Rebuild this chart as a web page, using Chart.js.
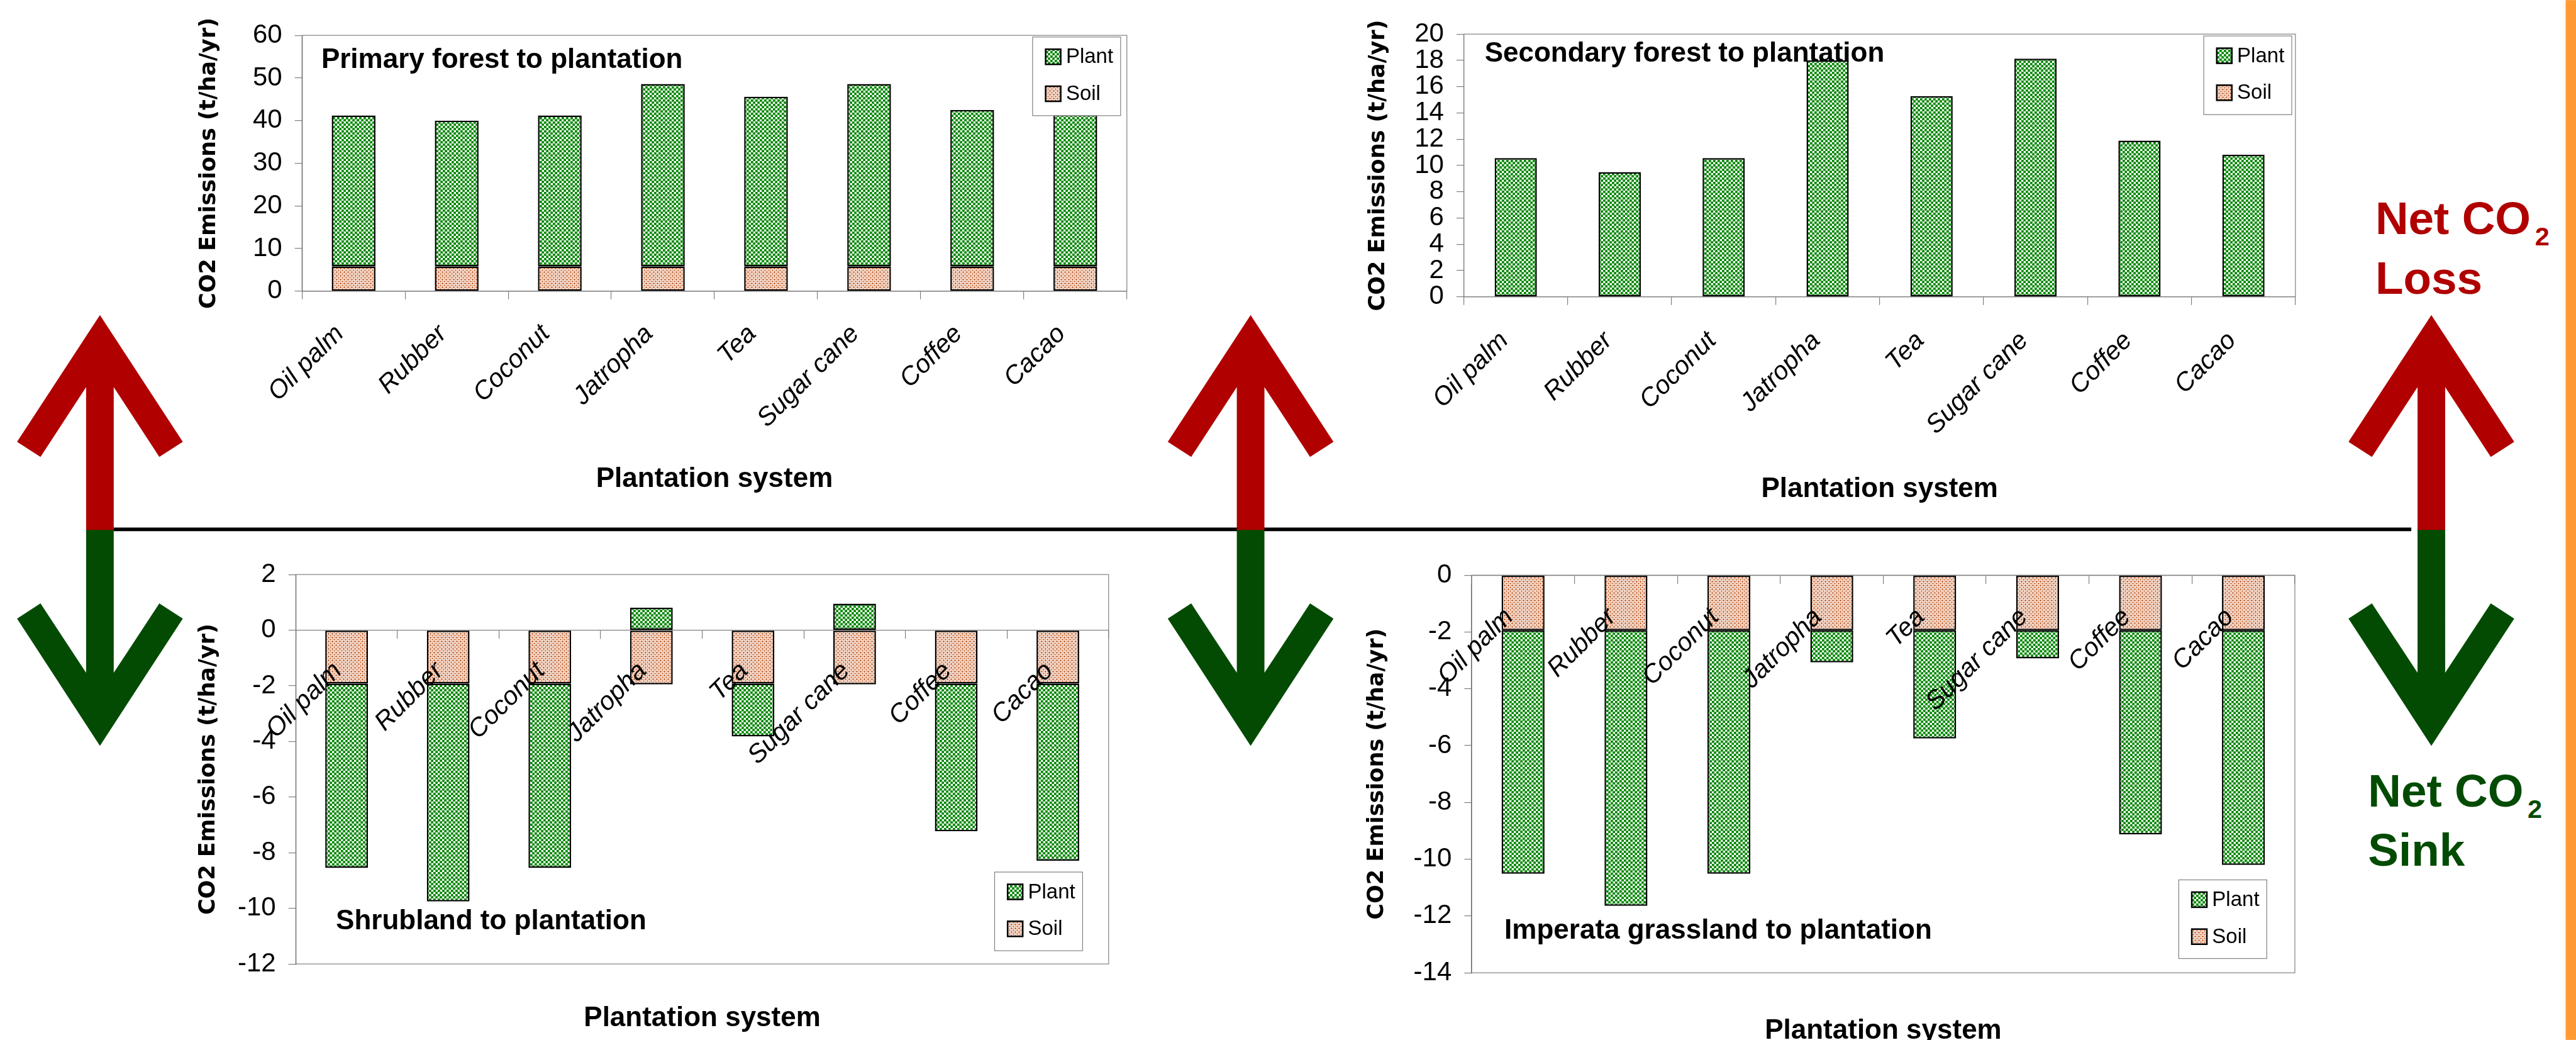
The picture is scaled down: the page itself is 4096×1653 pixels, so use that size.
<!DOCTYPE html>
<html>
<head>
<meta charset="utf-8">
<script src="https://cdn.jsdelivr.net/npm/chart.js@4.4.1/dist/chart.umd.min.js"></script>
<style>
  html, body { margin: 0; padding: 0; background: #ffffff; }
  body { width: 4096px; height: 1653px; overflow: hidden; position: relative; }
  canvas { position: absolute; }
  #deco { position: absolute; left: 0; top: 0; }
</style>
</head>
<body>
<svg id="deco" width="4096" height="1653" viewBox="0 0 4942 1994" xmlns="http://www.w3.org/2000/svg"
     font-family="'Liberation Sans', Arial, sans-serif" font-weight="bold">
  <rect x="4922.5" y="0" width="20" height="1994" fill="#ff9933"/>
  <line x1="4921.5" y1="0" x2="4921.5" y2="1994" stroke="#ffd3a8" stroke-width="1.5"/>
  <line x1="218" y1="1015" x2="4626" y2="1015" stroke="#000000" stroke-width="7"/>
  <g id="arrows"></g>
  <text x="4557" y="449" font-size="88" fill="#b00000">Net CO<tspan dx="8" dy="21" font-size="50">2</tspan></text>
  <text x="4557" y="563" font-size="88" fill="#b00000">Loss</text>
  <text x="4543" y="1547" font-size="88" fill="#034b03">Net CO<tspan dx="8" dy="21" font-size="50">2</tspan></text>
  <text x="4543" y="1660" font-size="88" fill="#034b03">Sink</text>
</svg>
<canvas id="cTL"></canvas>
<canvas id="cTR"></canvas>
<canvas id="cBL"></canvas>
<canvas id="cBR"></canvas>
<script>
// reference size -> window size
const S = 0.828;
const FONT = "'Liberation Sans', Arial, Helvetica, sans-serif";
const WIDE = "'DejaVu Sans', Verdana, sans-serif";

// categories (x axis)
const categories = ['Oil palm', 'Rubber', 'Coconut', 'Jatropha', 'Tea', 'Sugar cane', 'Coffee', 'Cacao'];

// Primary forest to plantation
const primarySoil  = [5.8, 5.8, 5.8, 5.8, 5.8, 5.8, 5.8, 5.8];
const primaryPlant = [35.4, 34.2, 35.4, 42.8, 39.8, 42.8, 36.7, 35.6];
const primaryTicks = [0, 10, 20, 30, 40, 50, 60];

// Secondary forest to plantation
const secondarySoil  = [0, 0, 0, 0, 0, 0, 0, 0];
const secondaryPlant = [10.56, 9.49, 10.56, 18.0, 15.28, 18.13, 11.89, 10.81];
const secondaryTicks = [0, 2, 4, 6, 8, 10, 12, 14, 16, 18, 20];

// Shrubland to plantation
const shrubSoil  = [-1.92, -1.92, -1.92, -1.95, -1.92, -1.95, -1.92, -1.92];
const shrubPlant = [-6.63, -7.83, -6.63, 0.81, -1.90, 0.95, -5.31, -6.37];
const shrubTicks = [-12, -10, -8, -6, -4, -2, 0, 2];

// Imperata grassland to plantation
const grassSoil  = [-1.94, -1.94, -1.94, -1.94, -1.94, -1.94, -1.94, -1.94];
const grassPlant = [-8.57, -9.70, -8.57, -1.13, -3.81, -0.99, -7.19, -8.26];
const grassTicks = [-14, -12, -10, -8, -6, -4, -2, 0];

// arrows (net loss / net sink), reference coordinates
const arrowCenters = [191.7, 2399.3, 4664.5];
(function drawArrows() {
  const g = document.getElementById('arrows');
  const mid = 1015;
  arrowCenters.forEach(cx => {
    const red = [[cx, 604], [cx + 159, 847], [cx + 114, 876], [cx + 26.5, 742], [cx + 26.5, mid + 1],
                 [cx - 26.5, mid + 1], [cx - 26.5, 742], [cx - 114, 876], [cx - 159, 847]];
    const green = [[cx, 1430], [cx + 159, 1186], [cx + 114, 1157], [cx + 26.5, 1290], [cx + 26.5, mid],
                   [cx - 26.5, mid], [cx - 26.5, 1290], [cx - 114, 1157], [cx - 159, 1186]];
    [[green, '#034b03'], [red, '#b00000']].forEach(([pts, col]) => {
      const p = document.createElementNS('http://www.w3.org/2000/svg', 'polygon');
      p.setAttribute('points', pts.map(q => q.join(',')).join(' '));
      p.setAttribute('fill', col);
      g.appendChild(p);
    });
  });
})();

// hatch-like fills
function makePattern(size, dots) {
  const c = document.createElement('canvas');
  c.width = c.height = size;
  const g = c.getContext('2d');
  g.fillStyle = '#ffffff';
  g.fillRect(0, 0, size, size);
  dots.forEach(([x, y, r, col]) => {
    g.fillStyle = col;
    g.beginPath();
    g.arc(x, y, r, 0, Math.PI * 2);
    g.fill();
  });
  return g.createPattern(c, 'repeat');
}
const plantFill = makePattern(7, [[1.75, 1.75, 2.2, '#068806'], [5.25, 5.25, 2.2, '#068806']]);
const soilFill = makePattern(6, [[1.5, 1.5, 1.3, '#b5470f'], [4.5, 4.5, 1.2, '#c45f28'],
                                 [4.5, 1.5, 1.0, '#dc8e62'], [1.5, 4.5, 1.0, '#dc8e62']]);

// title inside the plot, frame around it, legend box
const panelDecor = {
  id: 'panelDecor',
  beforeDatasetsDraw(chart, args, o) {
    const { ctx, chartArea: a } = chart;
    ctx.save();
    ctx.strokeStyle = '#808080';
    ctx.lineWidth = 1.2;
    ctx.strokeRect(a.left, a.top, a.right - a.left, a.bottom - a.top);
    ctx.restore();
  },
  afterDraw(chart, args, o) {
    const ctx = chart.ctx;
    ctx.save();
    ctx.fillStyle = '#000000';
    ctx.font = 'bold 44px ' + FONT;
    ctx.textBaseline = 'alphabetic';
    ctx.fillText(o.title, o.titleAt[0] * S - o.offX, o.titleAt[1] * S - o.offY);

    // legend
    const lx = o.legendAt[0] * S - o.offX, ly = o.legendAt[1] * S - o.offY;
    const w = 169 * S, h = 151 * S;
    ctx.fillStyle = '#ffffff';
    ctx.fillRect(lx, ly, w, h);
    ctx.strokeStyle = '#808080';
    ctx.lineWidth = 1.2;
    ctx.strokeRect(lx, ly, w, h);
    const items = chart.data.datasets.slice().reverse();
    const rows = [38, 109];
    ctx.font = '33px ' + FONT;
    ctx.textBaseline = 'middle';
    items.forEach((ds, i) => {
      const cy = ly + rows[i] * S;
      const sw = 24;
      const sx = lx + 25 * S;
      ctx.fillStyle = ds.backgroundColor;
      ctx.fillRect(sx, cy - sw / 2, sw, sw);
      ctx.strokeStyle = '#000000';
      ctx.lineWidth = 2.5;
      ctx.strokeRect(sx, cy - sw / 2, sw, sw);
      ctx.fillStyle = '#000000';
      ctx.fillText(ds.label, lx + 64 * S, cy + 1);
    });
    ctx.restore();
  }
};

// layout of the four panels, in reference pixels
const panels = [
  { id: 'cTL', title: 'Primary forest to plantation', soil: primarySoil, plant: primaryPlant, ticks: primaryTicks,
    plot: [580, 61, 2164, 559], yTitleX: 402, xTitleY: 920, titleAt: [617, 130], legendAt: [1983, 71],
    bar: 0.424, zeroAxis: false, labelShift: -22, labelPad: 31 },
  { id: 'cTR', title: 'Secondary forest to plantation', soil: secondarySoil, plant: secondaryPlant, ticks: secondaryTicks,
    plot: [2811, 58.7, 4408, 569.7], yTitleX: 2647, xTitleY: 939, titleAt: [2851, 118], legendAt: [4232, 69],
    bar: 0.406, zeroAxis: false, labelShift: -18, labelPad: 33 },
  { id: 'cBL', title: 'Shrubland to plantation', soil: shrubSoil, plant: shrubPlant, ticks: shrubTicks,
    plot: [568, 1096.6, 2129, 1850.4], yTitleX: 401, xTitleY: 1955, titleAt: [645, 1783.5], legendAt: [1910, 1674],
    bar: 0.42, zeroAxis: true, labelShift: -14, labelPad: 28 },
  { id: 'cBR', title: 'Imperata grassland to plantation', soil: grassSoil, plant: grassPlant, ticks: grassTicks,
    plot: [2826, 1097.8, 4407, 1867.4], yTitleX: 2645, xTitleY: 1979, titleAt: [2889, 1801.7], legendAt: [4184, 1689],
    bar: 0.417, zeroAxis: true, labelShift: -22, labelPad: 30 }
];

const Y_TITLE = 35, X_TITLE = 44;

panels.forEach(p => {
  const canvas = document.getElementById(p.id);
  const left = Math.round(p.yTitleX * S - Y_TITLE * 1.2 / 2);
  const top = Math.round(p.plot[1] * S - 40);
  const right = Math.round(p.plot[2] * S + 30);
  const bottom = Math.round(p.xTitleY * S + X_TITLE * 1.2 / 2);
  canvas.width = right - left;
  canvas.height = bottom - top;
  canvas.style.left = left + 'px';
  canvas.style.top = top + 'px';

  const yWidth = p.plot[0] * S - left;
  const xHeight = bottom - p.plot[3] * S;

  const xTitle = {
    display: true, text: 'Plantation system', color: '#000000', padding: 0,
    font: { family: FONT, size: X_TITLE, weight: 'bold' }
  };

  const scales = {
    x: {
      stacked: true,
      position: p.zeroAxis ? { y: 0 } : 'bottom',
      grid: { drawOnChartArea: false, drawTicks: true, tickLength: 13, color: '#808080', lineWidth: 1.2, z: p.zeroAxis ? 1 : -1 },
      border: { color: '#808080', width: 1.2, z: p.zeroAxis ? 1 : 0 },
      ticks: {
        autoSkip: false, minRotation: 45, maxRotation: 45, padding: p.labelPad, labelOffset: p.labelShift,
        z: p.zeroAxis ? 2 : 0, color: '#000000', font: { family: FONT, size: 41, style: 'italic' }
      },
      title: p.zeroAxis ? { display: false } : xTitle,
      afterFit: p.zeroAxis ? undefined : (s) => { s.height = xHeight; }
    },
    y: {
      stacked: true,
      min: p.ticks[0],
      max: p.ticks[p.ticks.length - 1],
      afterBuildTicks: (s) => { s.ticks = p.ticks.map(v => ({ value: v })); },
      grid: { drawOnChartArea: false, drawTicks: true, tickLength: 11.6, color: '#808080', lineWidth: 1.2 },
      border: { color: '#303030', width: 1.2 },
      ticks: { autoSkip: false, padding: 20, color: '#000000', font: { family: FONT, size: 42 } },
      title: {
        display: true, text: 'CO2 Emissions (t/ha/yr)', color: '#000000', padding: 0,
        font: { family: WIDE, size: Y_TITLE, weight: 'bold' }
      },
      afterFit: (s) => { s.width = yWidth; }
    }
  };
  if (p.zeroAxis) {
    scales.x2 = {
      type: 'category',
      position: 'bottom',
      grid: { display: false },
      border: { display: false },
      ticks: { display: false },
      title: xTitle,
      afterFit: (s) => { s.height = xHeight; }
    };
  }

  new Chart(canvas, {
    type: 'bar',
    data: {
      labels: categories,
      datasets: [
        { label: 'Soil', data: p.soil, backgroundColor: soilFill, borderColor: '#000000', borderWidth: 2.5,
          borderSkipped: false, barPercentage: p.bar, categoryPercentage: 1 },
        { label: 'Plant', data: p.plant, backgroundColor: plantFill, borderColor: '#000000', borderWidth: 2.5,
          borderSkipped: false, barPercentage: p.bar, categoryPercentage: 1 }
      ]
    },
    options: {
      responsive: false,
      animation: false,
      devicePixelRatio: 1,
      layout: { padding: { left: 0, bottom: 0, top: p.plot[1] * S - top, right: right - p.plot[2] * S } },
      plugins: {
        legend: { display: false },
        tooltip: { enabled: false },
        panelDecor: { title: p.title, titleAt: p.titleAt, legendAt: p.legendAt, offX: left, offY: top }
      },
      scales: scales
    },
    plugins: [panelDecor]
  });
});
</script>
</body>
</html>
